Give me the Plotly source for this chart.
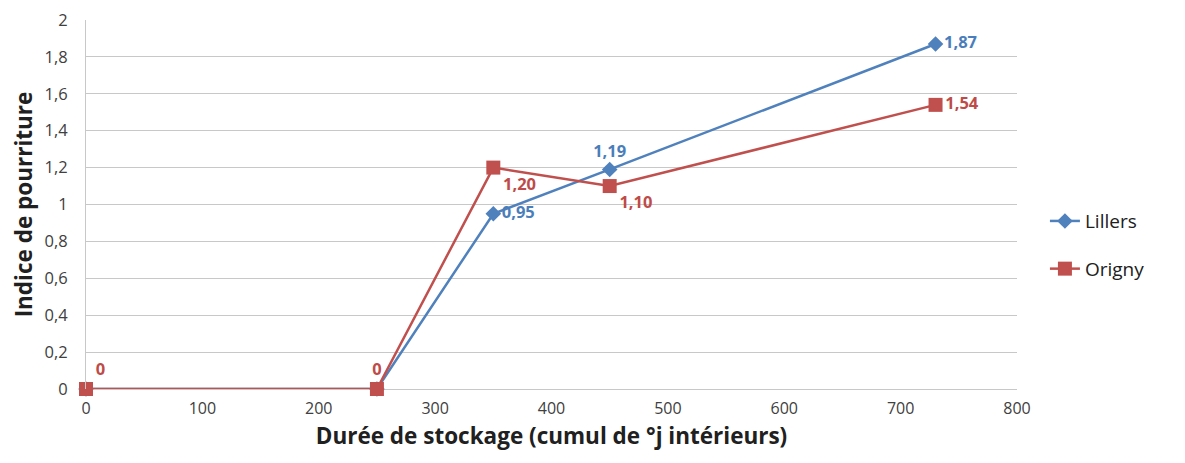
import plotly.graph_objects as go

x_vals = [0, 250, 350, 450, 730]
lillers = [0, 0, 0.95, 1.19, 1.87]
origny = [0, 0, 1.20, 1.10, 1.54]
lillers_labels = ["", "", "0,95", "1,19", "1,87"]
origny_labels = ["0", "0", "1,20", "1,10", "1,54"]

blue = "#4f81bd"
red = "#c0504d"
font_family = "Open Sans, Liberation Sans, sans-serif"

fig = go.Figure()
fig.add_trace(go.Scatter(
    x=x_vals, y=lillers, name="Lillers", mode="lines+markers+text",
    legendgroup="a",
    line=dict(color=blue, width=2.5),
    marker=dict(symbol="diamond", size=12, color=blue),
    text=lillers_labels,
    textposition=["middle right", "middle right", "middle right", "top center", "middle right"],
    textfont=dict(color="#4a7ebb", size=16.5, family=font_family, weight="bold"),
    cliponaxis=False,
))
fig.add_trace(go.Scatter(
    x=x_vals, y=origny, name="Origny", mode="lines+markers+text",
    legendgroup="b",
    line=dict(color=red, width=2.5),
    marker=dict(symbol="square", size=14, color=red),
    text=origny_labels,
    textposition=["top right", "top center", "bottom right", "bottom right", "middle right"],
    textfont=dict(color="#be4b48", size=16.5, family=font_family, weight="bold"),
    cliponaxis=False,
))

fig.update_layout(
    width=1185, height=463,
    margin=dict(l=78, r=176, t=12, b=82, autoexpand=False),
    paper_bgcolor="white", plot_bgcolor="white",
    separators=",.",
    font=dict(family=font_family, color="#404040", size=16),
    legend=dict(x=1.03, y=0.39, yanchor="middle", xanchor="left",
                font=dict(size=19, color="#202020"), tracegroupgap=20,
                itemwidth=30),
    showlegend=True,
)
fig.update_xaxes(
    range=[0, 800], dtick=100, tick0=0,
    showgrid=False, zeroline=False,
    showline=False,
    tickfont=dict(size=16, color="#404040"),
    ticks="", ticklabelstandoff=8,
    ticklabeloverflow="allow",
    title=dict(text="Durée de stockage (cumul de °j intérieurs)",
               font=dict(size=22.5, color="#202020", weight="bold"), standoff=10),
)
fig.update_yaxes(
    range=[0, 2], dtick=0.2, tick0=0,
    showgrid=True, gridcolor="#c8c8c8", gridwidth=1,
    zeroline=True, zerolinecolor="#c8c8c8", zerolinewidth=1,
    showline=True, linecolor="#c8c8c8", linewidth=1,
    tickfont=dict(size=16.5, color="#404040"),
    ticks="", ticklabelstandoff=14,
    ticklabeloverflow="allow",
    tickformat="~r",
    title=dict(text="Indice de pourriture",
               font=dict(size=22.5, color="#202020", weight="bold"), standoff=12),
)

fig.write_html("out.html")
